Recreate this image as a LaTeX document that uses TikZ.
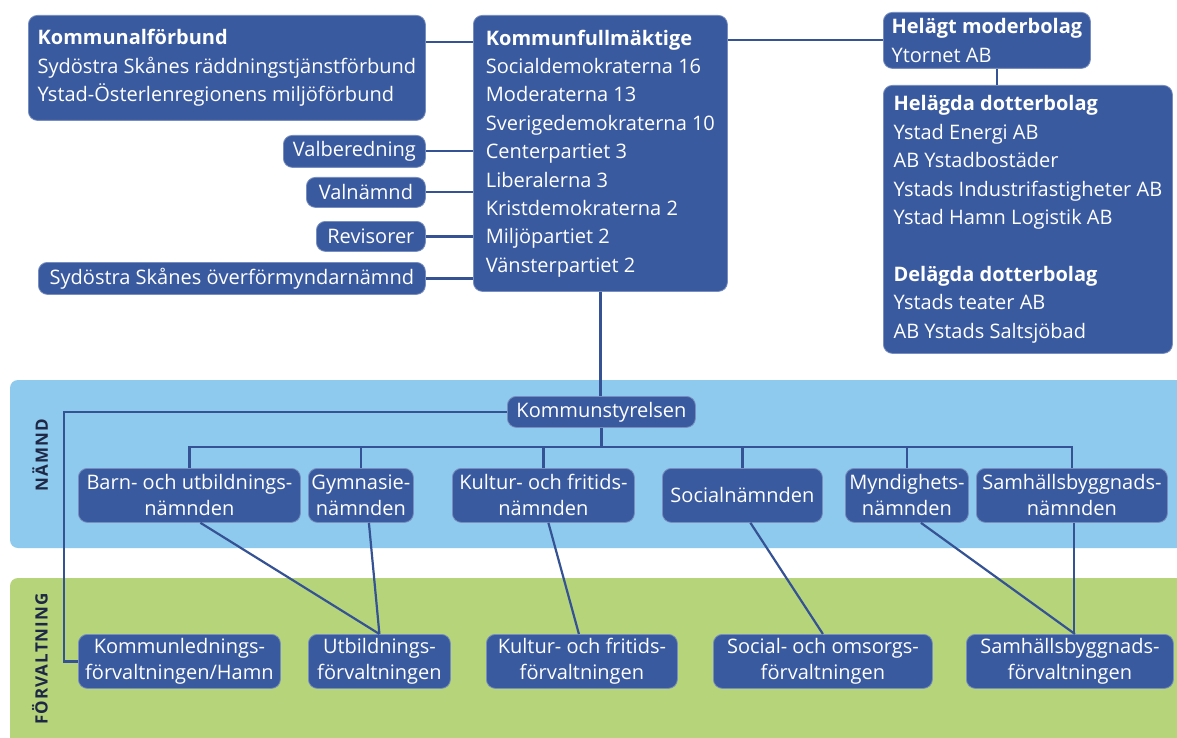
\documentclass[tikz,border=0pt]{standalone}
\usepackage{fontspec}
\setmainfont{Open Sans}
\newfontfamily\bandfont[LetterSpace=6]{Open Sans}
\definecolor{boxblue}{RGB}{58,90,160}
\definecolor{boxedge}{RGB}{120,142,190}
\definecolor{lineblue}{RGB}{52,82,148}
\definecolor{bandblue}{RGB}{142,202,237}
\definecolor{bandgreen}{RGB}{182,212,122}
\definecolor{labeltext}{RGB}{30,40,70}
\tikzset{
 box/.style={draw=boxedge, line width=0.8pt, fill=boxblue, rounded corners=9pt, text=white, inner xsep=0pt, inner ysep=0pt, anchor=north west},
 lbox/.style={box, align=left, font=\fontsize{20}{28.4}\selectfont},
 cbox/.style={box, align=center, font=\fontsize{20}{26}\selectfont},
 conn/.style={draw=lineblue, line width=2.2pt},
 bandlabel/.style={rotate=90, font=\bandfont\fontsize{17}{20}\selectfont\bfseries, text=labeltext}
}
\begin{document}
\begin{tikzpicture}[x=1pt,y=-1pt]
\useasboundingbox (0,0) rectangle (1177,738);
% bands
\fill[bandblue, rounded corners=8pt] (10,380) rectangle (1195,548);
\fill[bandgreen, rounded corners=8pt] (10,578) rectangle (1195,760);
\node[bandlabel] (lnamnd) at (40,455) {NÄMND};
\node[bandlabel] (lforv) at (40,659) {FÖRVALTNING};
% top boxes
\node[lbox, minimum width=397pt, minimum height=105pt] (kfb) at (28,15)
 {\textbf{Kommunalförbund}\\Sydöstra Skånes räddningstjänstförbund\\Ystad-Österlenregionens miljöförbund};
\node[lbox, minimum width=254pt, minimum height=276pt] (kf) at (473,15)
 {\textbf{Kommunfullmäktige}\\Socialdemokraterna 16\\Moderaterna 13\\Sverigedemokraterna 10\\Centerpartiet 3\\Liberalerna 3\\Kristdemokraterna 2\\Miljöpartiet 2\\Vänsterpartiet 2};
\node[cbox, minimum width=142pt, minimum height=32pt] (valb) at (283,135) {Valberedning};
\node[cbox, minimum width=119pt, minimum height=30pt] (valn) at (306,177) {Valnämnd};
\node[cbox, minimum width=109pt, minimum height=30pt] (rev) at (316,221) {Revisorer};
\node[cbox, minimum width=387pt, minimum height=32pt] (ofn) at (38,262) {Sydöstra Skånes överförmyndarnämnd};
\node[lbox, minimum width=207pt, minimum height=56pt] (mb) at (883,12)
 {\textbf{Helägt moderbolag}\\Ytornet AB};
\node[lbox, minimum width=289pt, minimum height=268pt] (db) at (883,85)
 {\textbf{Helägda dotterbolag}\\Ystad Energi AB\\AB Ystadbostäder\\Ystads Industrifastigheter AB\\Ystad Hamn Logistik AB\\[28.4pt]\textbf{Delägda dotterbolag}\\Ystads teater AB\\AB Ystads Saltsjöbad};
% kommunstyrelsen
\node[cbox, minimum width=188pt, minimum height=31pt] (ks) at (507,396) {Kommunstyrelsen};
% nämnder
\node[cbox, minimum width=222pt, minimum height=54pt] (bun) at (78,468) {Barn- och utbildnings-\\nämnden};
\node[cbox, minimum width=105pt, minimum height=54pt] (gn) at (308,468) {Gymnasie-\\nämnden};
\node[cbox, minimum width=182pt, minimum height=54pt] (kun) at (452,468) {Kultur- och fritids-\\nämnden};
\node[cbox, minimum width=160pt, minimum height=54pt] (sn) at (662,468) {Socialnämnden};
\node[cbox, minimum width=123pt, minimum height=54pt] (mn) at (845,468) {Myndighets-\\nämnden};
\node[cbox, minimum width=191pt, minimum height=54pt] (sbn) at (976,468) {Samhällsbyggnads-\\nämnden};
% förvaltningar
\node[cbox, minimum width=202pt, minimum height=54pt] (kl) at (78,634) {Kommunlednings-\\förvaltningen/Hamn};
\node[cbox, minimum width=142pt, minimum height=54pt] (uf) at (308,634) {Utbildnings-\\förvaltningen};
\node[cbox, minimum width=191pt, minimum height=54pt] (kuf) at (486,634) {Kultur- och fritids-\\förvaltningen};
\node[cbox, minimum width=219pt, minimum height=54pt] (sof) at (713,634) {Social- och omsorgs-\\förvaltningen};
\node[cbox, minimum width=207pt, minimum height=54pt] (sbf) at (966,634) {Samhällsbyggnads-\\förvaltningen};
% connectors top
\draw[conn] ([yshift=-27pt]kfb.north east) -- ([yshift=-27pt]kfb.north east -| kf.west);
\draw[conn] (valb.east) -- (valb.east -| kf.west);
\draw[conn] (valn.east) -- (valn.east -| kf.west);
\draw[conn] (rev.east) -- (rev.east -| kf.west);
\draw[conn] (ofn.east) -- (ofn.east -| kf.west);
\draw[conn] (kf.east |- mb.west) -- (mb.west);
\draw[conn] ([xshift=10pt]mb.south) -- ([xshift=10pt]mb.south |- db.north);
\draw[conn] (kf.south) -- (kf.south |- ks.north);
\draw[conn] (ks.west) -| ([xshift=-14pt]kl.west) -- (kl.west);
\draw[conn] (ks.south) -- ++(0,19) coordinate (bus);
\foreach \c in {bun,gn,kun,sn,mn,sbn} \draw[conn] (\c.north) |- (bus);
% connectors nämnd -> förvaltning
\draw[conn] ([xshift=11pt]bun.south) -- (uf.north);
\draw[conn] ([xshift=8pt]gn.south) -- (uf.north);
\draw[conn] ([xshift=5pt]kun.south) -- ([xshift=-3pt]kuf.north);
\draw[conn] ([xshift=8pt]sn.south) -- (sof.north);
\draw[conn] ([xshift=14pt]mn.south) -- ([xshift=5pt]sbf.north);
\draw[conn] ([xshift=2pt]sbn.south) -- ([xshift=2pt]sbn.south |- sbf.north);
\end{tikzpicture}
\end{document}
